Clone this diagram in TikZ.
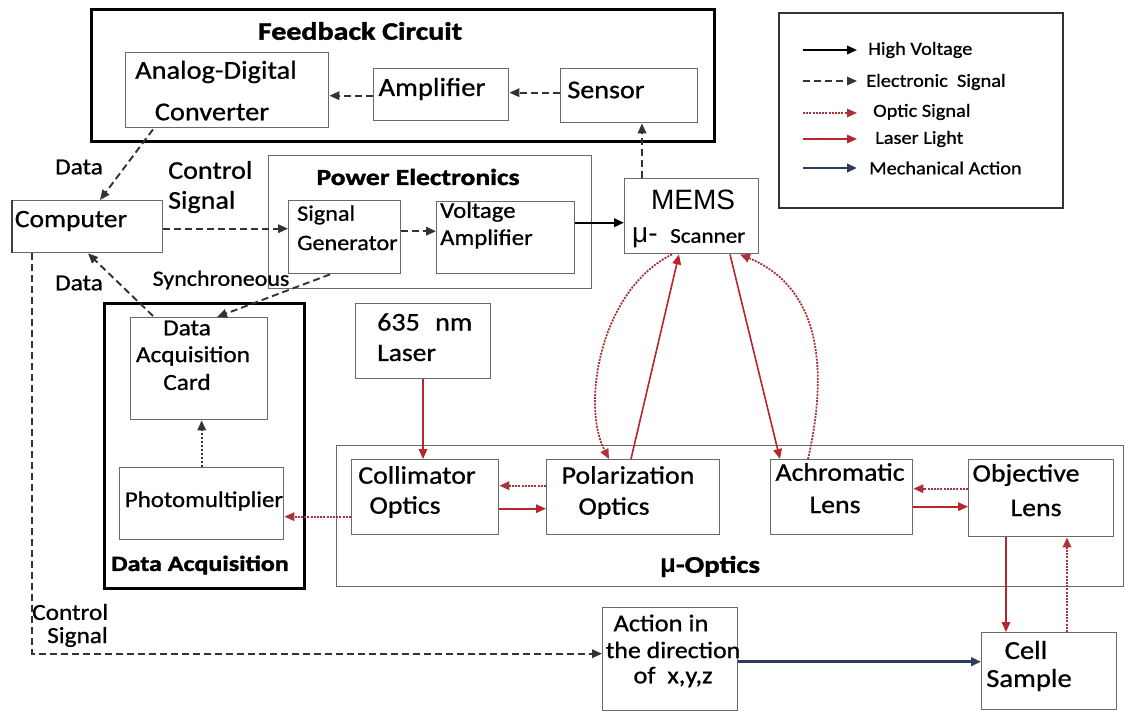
\documentclass[tikz,border=0pt]{standalone}
\usepackage{fontspec}
\setmainfont{Carlito}[FakeStretch=1.1,FakeBold=0.8]
\newfontfamily\headfont{Carlito}[FakeStretch=1.2,BoldFeatures={FakeBold=1.6}]
\newfontfamily\arialfont{Liberation Sans}
\usetikzlibrary{arrows.meta,calc}
\definecolor{laserred}{HTML}{B8262C}
\definecolor{opticred}{HTML}{A8343A}
\definecolor{mechblue}{HTML}{2F3B5C}
\definecolor{frame}{HTML}{6A6A6A}
\newcommand\fsz[1]{\fontsize{#1}{#1}\selectfont}
\tikzset{
  blk/.style={draw=frame, line width=1.4pt, anchor=north west, inner sep=0pt},
  grp/.style={draw=black, line width=3pt, anchor=north west, inner sep=0pt},
  legbox/.style={draw=black!80, line width=2.3pt, anchor=north west, inner sep=0pt},
  txt/.style={inner sep=0pt},
  head/.style={txt, font={\headfont\bfseries\fsz{#1}}},
  lbl/.style={txt, font={\fsz{#1}}},
  tip/.style={-{Triangle[length=10pt,width=8.5pt]}},
  hv/.style={tip, line width=2pt, black},
  esig/.style={tip, line width=1.9pt, black!80, dash pattern=on 7pt off 4pt},
  edot/.style={tip, line width=1.8pt, black!80, dash pattern=on 2pt off 2pt},
  osig/.style={tip, line width=1.8pt, opticred, dash pattern=on 2pt off 1.2pt},
  las/.style={tip, line width=1.6pt, laserred},
  mec/.style={tip, line width=2.6pt, mechblue},
}
\begin{document}
\begin{tikzpicture}[x=1pt,y=-1pt]
\fill[white] (0,0) rectangle (1127,711);
\useasboundingbox (0,0) rectangle (1127,711);

% ---------- group frames ----------
\node[grp, minimum width=623pt, minimum height=132pt] (fb) at (90,8) {};
\node[blk, minimum width=323pt, minimum height=133pt] (pe) at (268,155) {};
\node[grp, line width=3.4pt, minimum width=200pt, minimum height=285pt] (daq) at (103,302) {};
\node[blk, minimum width=787pt, minimum height=141pt] (opt) at (336,445) {};
\node[legbox, minimum width=284pt, minimum height=195pt] (leg) at (778,12) {};

% ---------- blocks ----------
\node[blk, minimum width=203pt, minimum height=75pt] (adc) at (125,52) {};
\node[blk, minimum width=135pt, minimum height=52pt] (amp) at (373,68) {};
\node[blk, minimum width=137pt, minimum height=54pt] (sens) at (560,68) {};
\node[blk, minimum width=112pt, minimum height=73pt] (sg) at (288,200) {};
\node[blk, minimum width=138pt, minimum height=72pt] (va) at (436,201) {};
\node[blk, minimum width=134pt, minimum height=75pt] (mems) at (624,178) {};
\node[blk, minimum width=150pt, minimum height=52pt] (comp) at (12,200) {};
\node[blk, minimum width=137pt, minimum height=102pt] (card) at (130,317) {};
\node[blk, minimum width=164pt, minimum height=72pt] (pmt) at (119,467) {};
\node[blk, minimum width=135pt, minimum height=75pt] (laser) at (355,303) {};
\node[blk, minimum width=147pt, minimum height=75pt] (coll) at (351,459) {};
\node[blk, minimum width=173pt, minimum height=75pt] (pol) at (546,459) {};
\node[blk, minimum width=142pt, minimum height=75pt] (ach) at (770,459) {};
\node[blk, minimum width=145pt, minimum height=77pt] (obj) at (968,459) {};
\node[blk, minimum width=135pt, minimum height=103pt] (act) at (602,607) {};
\node[blk, minimum width=135pt, minimum height=77pt] (cell) at (981,632) {};
% darker left edge of the computer block
\draw[black!75, line width=2.6pt] (comp.north west) -- (comp.south west);

% ---------- titles ----------
\node[head=25] (tfb) at (360,31) {Feedback Circuit};
\node[head=23] (tpe) at (418,177) {Power Electronics};
\node[head=21.7] (tdaq) at (200,565) {Data Acquisition};
\node[txt] (topt) at (710,567) {{\arialfont\bfseries\fsz{26}μ}{\headfont\bfseries\fsz{24}-Optics}};

% ---------- block texts ----------
\node[lbl=25.8] (t1) at (216,72) {Analog-Digital};
\node[lbl=25.8] (t2) at (212,112) {Converter};
\node[lbl=26] (t3) at (432,89) {Amplifier};
\node[lbl=25.5] (t4) at (606,90) {Sensor};
\node[lbl=25] (t5) at (71,221) {Computer};
\node[lbl=22, anchor=west] (t6) at (297,215) {Signal};
\node[lbl=22, anchor=west] (t7) at (297,243) {Generator};
\node[lbl=22.5, anchor=west] (t8) at (440,212) {Voltage};
\node[lbl=22.5, anchor=west] (t9) at (440,239) {Amplifier};
\node[txt, font={\arialfont\fsz{28}}] (t10) at (693,200) {MEMS};
\node[txt, font={\arialfont\fsz{28}}, anchor=west] (t11) at (632,238) {μ-};
\node[lbl=21, anchor=west] (t12) at (670,236) {Scanner};
\node[lbl=23] (t13) at (187,328) {Data};
\node[lbl=23] (t14) at (193,356) {Acquisition};
\node[lbl=23] (t15) at (187,382) {Card};
\node[lbl=22.6] (t16) at (204,501) {Photomultiplier};
\node[lbl=25.5, anchor=west] (t17) at (377,322) {635\hspace{0.6em}nm};
\node[lbl=25, anchor=west] (t18) at (377,353) {Laser};
\node[lbl=25.3] (t19) at (417,475) {Collimator};
\node[lbl=25.3] (t20) at (405,507) {Optics};
\node[lbl=25.3] (t21) at (628,475) {Polarization};
\node[lbl=25.3] (t22) at (614,508) {Optics};
\node[lbl=25.3] (t23) at (840,472) {Achromatic};
\node[lbl=25.3] (t24) at (835,505) {Lens};
\node[lbl=25.3] (t25) at (1026,475) {Objective};
\node[lbl=25.3] (t26) at (1036,508) {Lens};
\node[lbl=24] (t27) at (661,623) {Action in};
\node[lbl=23.5] (t28) at (673,650) {the direction};
\node[lbl=24] (t29) at (673,677) {of \ x,y,z};
\node[lbl=26] (t30) at (1026,650) {Cell};
\node[lbl=26] (t31) at (1029,680) {Sample};

% ---------- connector labels ----------
\node[lbl=23] (d1) at (79,167) {Data};
\node[lbl=25.5, anchor=west] (c1) at (168,170) {Control};
\node[lbl=25.5, anchor=west] (c2) at (168,202) {Signal};
\node[lbl=23] (d2) at (79,283) {Data};
\node[lbl=21.8] (syn) at (221,280) {Synchroneous};
\node[lbl=23, anchor=west] (c3) at (32,612) {Control};
\node[lbl=23, anchor=west] (c4) at (47,637) {Signal};

% ---------- feedback loop ----------
\draw[esig] ([yshift=3pt]sens.west) -- ([yshift=3pt]sens.west -| amp.east);
\draw[esig] ([yshift=-1pt]amp.west) -- ([yshift=-1pt]amp.west -| adc.east);
\coordinate (m1) at ($(mems.north west)+(18,0)$);
\draw[esig] (m1) -- (m1 |- sens.south);
\draw[esig] ($(adc.south west)+(28,1)$) -- ($(comp.north west)+(88,0)$);

% ---------- drive chain ----------
\draw[esig] ([yshift=-2pt]comp.east) -- ([yshift=-2pt]comp.east -| sg.west);
\draw[esig] ([yshift=6pt]sg.east) -- ([yshift=6pt]sg.east -| va.west);
\draw[hv] ([yshift=15pt]va.east) -- ([yshift=15pt]va.east -| mems.west);

% ---------- acquisition ----------
\draw[esig] ($(card.north west)+(23,-1)$) -- ($(comp.south west)+(76,0)$);
\draw[esig] ($(sg.south west)+(42,0)$) -- ($(card.north west)+(87,0)$);
\draw[edot] (pmt.north) -- (pmt.north |- card.south);

% ---------- optical path ----------
\coordinate (l1) at ($(laser.south west)+(68,0)$);
\draw[las] (l1) -- (l1 |- coll.north);
\draw[osig] ([yshift=11.5pt]pol.west) -- ([yshift=11.5pt]pol.west -| coll.east);
\draw[las] ([yshift=-11.5pt]coll.east) -- ([yshift=-11.5pt]coll.east -| pol.west);
\draw[osig] ([yshift=9.5pt]obj.west) -- ([yshift=9.5pt]obj.west -| ach.east);
\draw[las] ([yshift=-9.5pt]ach.east) -- ([yshift=-9.5pt]ach.east -| obj.west);
\draw[osig] ([yshift=-19.5pt]coll.west) -- ([yshift=-19.5pt]coll.west -| pmt.east);
\draw[las] ($(pol.north west)+(85,0)$) -- ($(mems.south west)+(55,0)$);
\draw[osig] ($(mems.south west)+(48,0)$) .. controls (600,290) and (581,405) .. ($(pol.north west)+(63,0)$);
\draw[las] ($(mems.south west)+(106,0)$) -- ($(ach.north west)+(10,0)$);
\draw[osig] ($(ach.north west)+(38,0)$) .. controls (826,380) and (826,290) .. ($(mems.south west)+(116,0)$);
\coordinate (o1) at ($(obj.south west)+(38,0)$);
\draw[las] (o1) -- (o1 |- cell.north);
\coordinate (o2) at ($(cell.north west)+(86,0)$);
\draw[osig] (o2) -- (o2 |- obj.south);

% ---------- stage control ----------
\draw[mec] ([yshift=-2.5pt]act.east) -- ([yshift=-2.5pt]act.east -| cell.west);
\coordinate (k1) at ($(comp.south west)+(20,0)$);
\draw[esig] (k1) |- ([yshift=5.5pt]act.west);

% ---------- legend ----------
\foreach \n/\y in {1/50,2/81,3/113,4/139,5/168}{
  \coordinate (ls\n) at (803,\y);
  \coordinate (le\n) at (857,\y);
}
\draw[hv, line width=1.8pt] (ls1) -- (le1);
\draw[esig, line width=1.6pt] (ls2) -- (le2);
\draw[osig, line width=1.6pt] (ls3) -- (le3);
\draw[las, line width=1.6pt] (ls4) -- (le4);
\draw[mec, line width=2.4pt] (ls5) -- (le5);
\node[lbl=18.5, anchor=west] (g1) at (868,50) {High Voltage};
\node[lbl=18.5, anchor=west] (g2) at (866,82) {Electronic\ \ Signal};
\node[lbl=18.5, anchor=west] (g3) at (873,112) {Optic Signal};
\node[lbl=18.5, anchor=west] (g4) at (875,139) {Laser Light};
\node[lbl=18.5, anchor=west] (g5) at (869,168) {Mechanical Action};
\end{tikzpicture}
\end{document}
